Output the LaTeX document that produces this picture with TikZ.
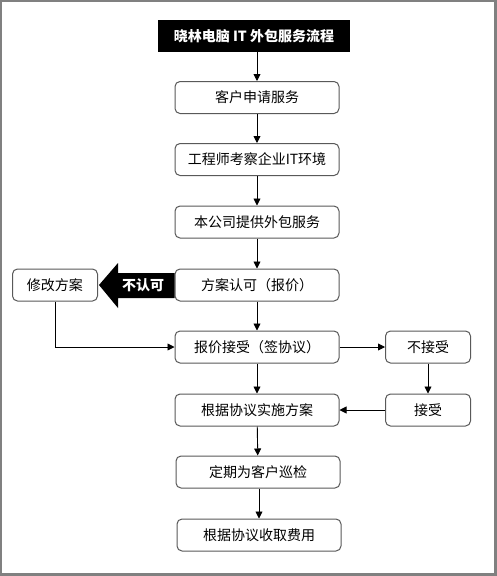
\documentclass[tikz,border=0pt]{standalone}
\usepackage{fontspec}
\newfontfamily\cjk{Noto Sans CJK SC}
\usetikzlibrary{arrows.meta}
\begin{document}
\begin{tikzpicture}[x=1pt,y=-1pt,
    box/.style={draw=black!65,line width=1pt,rounded corners=5pt,fill=white,
      minimum width=164pt,minimum height=32pt,inner sep=0pt,font=\cjk\fontsize{14}{15}\selectfont},
    sbox/.style={box,minimum width=85pt},
    arr/.style={line width=0.9pt,-{Triangle[length=7pt,width=7pt]}}]
  \useasboundingbox (0,0) rectangle (497,576);
  \fill[black!50] (0,0) rectangle (497,576);
  \fill[white] (2,2) rectangle (494,573);

  \node[fill=black,text=white,minimum width=192pt,minimum height=32pt,inner sep=0pt,
        font=\cjk\bfseries\fontsize{14}{15}\selectfont] (t) at (254,36) {晓林电脑 IT 外包服务流程};
  \node[box] (s1) at (257,97.5) {客户申请服务};
  \node[box] (s2) at (257,159.5) {工程师考察企业IT环境};
  \node[box] (s3) at (257,222) {本公司提供外包服务};
  \node[box] (s4) at (257,285) {方案认可（报价）};
  \node[box] (s5) at (257,347) {报价接受（签协议）};
  \node[box] (s6) at (257,410) {根据协议实施方案};
  \node[box] (s7) at (258,472) {定期为客户巡检};
  \node[box] (s8) at (259,535) {根据协议收取费用};
  \node[sbox] (m) at (55,285) {修改方案};
  \node[sbox] (n) at (428,347) {不接受};
  \node[sbox] (y) at (428,410) {接受};

%  block arrow
  \fill (99,285) -- (118,263) -- (118,273) -- (s4.west |- 0,273) -- (s4.west |- 0,298)
    -- (118,298) -- (118,308) -- cycle;
  \node[text=white,font=\cjk\bfseries\fontsize{14}{15}\selectfont] (no) at (143,285.5) {不认可};

  \draw[arr] (t.south -| s1) -- (s1);
  \draw[arr] (s1) -- (s2);
  \draw[arr] (s2) -- (s3);
  \draw[arr] (s3) -- (s4);
  \draw[arr] (s4) -- (s5);
  \draw[arr] (s5) -- (s6);
  \draw[arr] (s6) -- (s7);
  \draw[arr] (s7.south -| s8) -- (s8);
  \draw[arr] (s5) -- (n);
  \draw[arr] (n) -- (y);
  \draw[arr] (y) -- (s6);
  \draw[arr] (m) |- (s5);
\end{tikzpicture}
\end{document}
